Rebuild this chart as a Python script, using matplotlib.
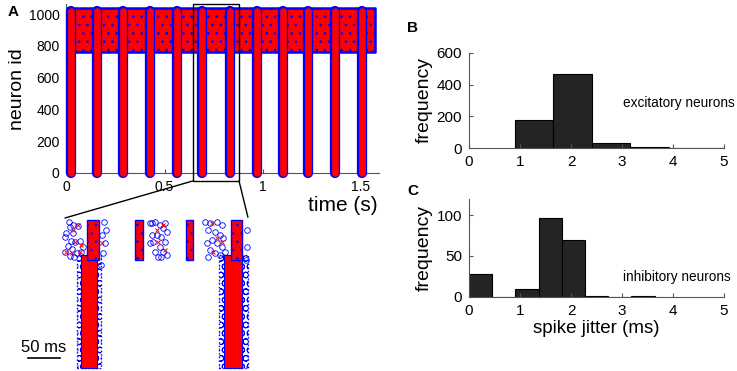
import numpy as np
import matplotlib.pyplot as plt
from matplotlib.patches import Rectangle, ConnectionPatch

plt.rcParams['font.family'] = ['Liberation Sans', 'DejaVu Sans']
plt.rcParams['hatch.linewidth'] = 0.7

# panel A: population bursts (s), neuron id ranges
burst_times = [0.021, 0.154, 0.289, 0.425, 0.561, 0.689,
               0.833, 0.969, 1.104, 1.232, 1.368, 1.504]
n_exc = 760
n_total = 1040
sim_end = 1.57
zoom_window = (0.644, 0.879)

# zoomed raster (ms): full volleys and inhibitory-only volleys
exc_volley_ms = [108, 333]
exc_core_ms = [26, 28]
exc_halo_ms = [38, 46]
inh_volley_ms = [114, 186, 264, 338]
inh_spread_ms = [19, 11, 11, 18]

# scattered inhibitory spikes in the zoom, run 1 (circles)
run1_ms = [77, 83, 91, 78, 73, 83, 70, 80, 87, 94, 99, 75, 70, 82, 89, 96, 78, 85,
           132, 134, 128, 133, 130, 127,
           206, 211, 219, 227, 224, 229, 214, 221, 208, 227, 219, 211, 224, 221,
           229, 216, 203, 206, 203,
           289, 297, 307, 315, 294, 305, 312, 299, 292, 307, 315, 297, 305, 312,
           294, 320, 317,
           354, 354, 352]
run1_id = [1028, 1005, 998, 989, 950, 946, 922, 894, 887, 894, 851, 856, 816, 833,
           805, 816, 786, 781,
           1028, 970, 934, 875, 805, 722,
           1017, 1028, 1005, 1017, 981, 958, 934, 922, 887, 887, 851, 816, 816, 781,
           793, 781, 1017, 934, 875,
           1028, 1017, 1028, 1005, 970, 958, 934, 899, 875, 875, 851, 828, 805, 793,
           781, 816, 910,
           970, 851, 757]
# run 2 (crosses)
run2_ms = [91, 86, 73, 81, 96, 94, 83, 128, 224, 216, 227, 214, 299, 307, 302, 315]
run2_id = [1005, 887, 816, 805, 863, 816, 970, 875, 1005, 887, 828, 970, 1017, 910,
           816, 887]

# panels B and C: spike jitter histograms
exc_edges = [0.9, 1.655, 2.41, 3.165, 3.92, 4.675, 5.43]
exc_counts = [178, 468, 36, 6, 0, 2]
inh_edges = [0, 0.455, 0.91, 1.365, 1.82, 2.275, 2.73, 3.185, 3.64]
inh_counts = [28, 0, 10, 96, 69, 1, 0, 1]

spine_col = '#555555'
fig = plt.figure(figsize=(7.37, 3.71), dpi=100)


def style_axes(ax, size):
    for s in ['top', 'right']:
        ax.spines[s].set_visible(False)
    for s in ['left', 'bottom']:
        ax.spines[s].set_color(spine_col)
        ax.spines[s].set_linewidth(0.8)
    ax.tick_params(direction='in', length=3, width=0.8, color=spine_col,
                   labelsize=size, pad=5)


# ---- A
ax = fig.add_axes([0.0902, 0.5337, 0.424, 0.4542])
ax.bar(0, n_total - n_exc, bottom=n_exc, width=sim_end, align='edge',
       facecolor='red', edgecolor='blue', linewidth=1.8, hatch='..', zorder=2,
       joinstyle='round')
ax.vlines(burst_times, 0, n_total - 20, color='blue', lw=7.4, capstyle='round',
          zorder=3, clip_on=False)
ax.vlines(burst_times, 0, n_total - 20, color='red', lw=4.8, capstyle='round',
          zorder=4, clip_on=False)
ax.set_xlim(0, 1.592)
ax.set_ylim(0, 1060)
ax.set_xticks([0, 0.5, 1, 1.5], ['0', '0.5', '1', '1.5'])
ax.set_yticks(range(0, 1001, 200))
style_axes(ax, 10)
ax.set_ylabel('neuron id', fontsize=14, labelpad=2)
ax.text(0.885, -0.19, 'time (s)', transform=ax.transAxes, fontsize=15,
        ha='center', va='center')
fig.text(0.011, 0.967, 'A', fontsize=11, fontweight='bold', va='center')
ax.add_patch(Rectangle((zoom_window[0], -50), zoom_window[1] - zoom_window[0], 1113,
                       fill=False, edgecolor='black', linewidth=1, clip_on=False,
                       zorder=5))

# ---- zoomed raster
ins = fig.add_axes([62 / 737, 1 - 370 / 371, 188 / 737, 152 / 371])
ins.set_xlim(66, 359)
ins.set_ylim(-21, 1054)
ins.axis('off')
ins.bar(exc_volley_ms, n_exc + 40, bottom=-10, width=exc_halo_ms, facecolor='white',
        edgecolor='blue', linewidth=1.0, linestyle=':', hatch='OO', zorder=2)
ins.bar(exc_volley_ms, n_exc + 40, bottom=-10, width=exc_core_ms, facecolor='red',
        edgecolor='blue', linewidth=0.8, zorder=3)
ins.bar(inh_volley_ms, n_total - n_exc, bottom=n_exc, width=inh_spread_ms,
        facecolor='red', edgecolor='blue', linewidth=1.0, hatch='..', zorder=3)
ins.plot(run1_ms, run1_id, 'o', ms=4, mfc='none', mec='blue', mew=0.6,
         zorder=4, clip_on=False)
ins.plot(run2_ms, run2_id, 'x', ms=3.5, color='red', mew=0.7, zorder=4,
         clip_on=False)
ins.plot([12.5, 62.5], [66, 66], color='black', lw=1.2, clip_on=False)
ins.text(37.5, 141, '50 ms', fontsize=12, ha='center', va='center')

for xa, xb in [(zoom_window[0], (0.016, 1.0)), (zoom_window[1], (0.989, 1.005))]:
    fig.add_artist(ConnectionPatch(xyA=(xa, -50), coordsA=ax.transData,
                                   xyB=xb, coordsB=ins.transAxes,
                                   color='black', linewidth=1))

# ---- B
axb = fig.add_axes([469 / 737, 0.6003, 255 / 737, 0.2577])
axb.bar(exc_edges[:-1], exc_counts, width=np.diff(exc_edges), align='edge',
        facecolor='#242424', edgecolor='black', linewidth=0.8)
axb.set_xlim(0, 5)
axb.set_ylim(0, 600)
axb.set_xticks(range(6))
axb.set_yticks([0, 200, 400, 600])
style_axes(axb, 11)
axb.set_ylabel('frequency', fontsize=14, labelpad=3)
axb.text(3.02, 287, 'excitatory neurons', fontsize=9.8, va='center')
fig.text(407 / 737, 1 - 28 / 371, 'B', fontsize=11, fontweight='bold', va='center')

# ---- C
axc = fig.add_axes([469 / 737, 0.2003, 255 / 737, 0.2642])
axc.bar(inh_edges[:-1], inh_counts, width=np.diff(inh_edges), align='edge',
        facecolor='#242424', edgecolor='black', linewidth=0.8)
axc.set_xlim(0, 5)
axc.set_ylim(0, 120)
axc.set_xticks(range(6))
axc.set_yticks([0, 50, 100])
style_axes(axc, 11)
axc.set_ylabel('frequency', fontsize=14, labelpad=3)
axc.set_xlabel('spike jitter (ms)', fontsize=13.5, labelpad=2)
axc.text(3.02, 23.5, 'inhibitory neurons', fontsize=9.8, va='center')
fig.text(407 / 737, 1 - 191 / 371, 'C', fontsize=11, fontweight='bold', va='center')

fig.savefig('out.png', dpi=100)
